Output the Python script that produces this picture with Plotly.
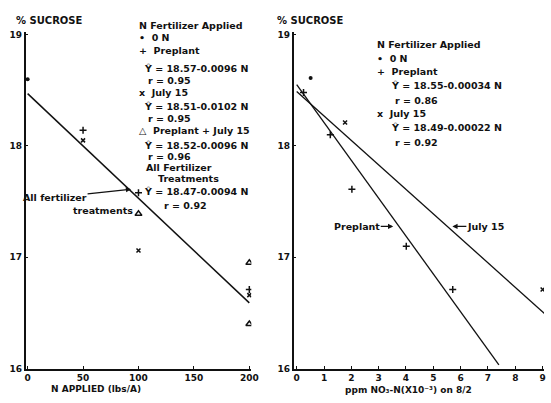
import plotly.graph_objects as go

# ---------------- data ----------------
# Left panel: N applied (lbs/A) vs % sucrose
zero_n_x = [0]
zero_n_y = [18.60]
preplant_x = [50, 100, 200]
preplant_y = [18.14, 17.58, 16.71]
july_x = [50, 100, 200]
july_y = [18.05, 17.06, 16.66]
both_x = [100, 200, 200]
both_y = [17.39, 16.95, 16.40]
all_intercept, all_slope = 18.47, -0.0094
all_line_x = [0, 200]

# Right panel: ppm NO3-N (x10^-3) on 8/2 vs % sucrose
r_zero_x = [0.51]
r_zero_y = [18.61]
r_pre_x = [0.25, 1.23, 2.02, 4.01, 5.71]
r_pre_y = [18.48, 18.10, 17.61, 17.10, 16.71]
r_july_x = [1.77, 9.0]
r_july_y = [18.21, 16.71]
pre_intercept, pre_slope = 18.55, -0.34     # per 1000 ppm
july_intercept, july_slope = 18.49, -0.22   # per 1000 ppm
pre_line_x = [0, 7.4]
july_line_x = [0, 9.2]

left_xticks = [0, 50, 100, 150, 200]
right_xticks = list(range(0, 10))
y_ticks = [16, 17, 18, 19]

W, H = 551, 403
FONT = "DejaVu Sans"
BLACK = "#111111"


def px(x):
    return x / W


def py(y):
    return 1 - y / H


fig = go.Figure()

fig.add_trace(go.Scatter(x=zero_n_x, y=zero_n_y, mode="markers",
                         marker=dict(symbol="circle", size=4, color=BLACK), xaxis="x", yaxis="y"))
fig.add_trace(go.Scatter(x=preplant_x, y=preplant_y, mode="markers",
                         marker=dict(symbol="cross-thin", size=5, line=dict(width=1.5, color=BLACK)), xaxis="x", yaxis="y"))
fig.add_trace(go.Scatter(x=july_x, y=july_y, mode="markers",
                         marker=dict(symbol="x-thin", size=4, line=dict(width=1.5, color=BLACK)), xaxis="x", yaxis="y"))
fig.add_trace(go.Scatter(x=both_x, y=both_y, mode="markers",
                         marker=dict(symbol="triangle-up-open", size=6, color=BLACK, line=dict(width=1.5)), xaxis="x", yaxis="y"))
fig.add_trace(go.Scatter(x=all_line_x, y=[all_intercept + all_slope * v for v in all_line_x],
                         mode="lines", line=dict(color=BLACK, width=1.5), xaxis="x", yaxis="y"))

fig.add_trace(go.Scatter(x=r_zero_x, y=r_zero_y, mode="markers",
                         marker=dict(symbol="circle", size=4, color=BLACK), xaxis="x2", yaxis="y2"))
fig.add_trace(go.Scatter(x=r_pre_x, y=r_pre_y, mode="markers",
                         marker=dict(symbol="cross-thin", size=5, line=dict(width=1.5, color=BLACK)), xaxis="x2", yaxis="y2"))
fig.add_trace(go.Scatter(x=r_july_x, y=r_july_y, mode="markers",
                         marker=dict(symbol="x-thin", size=4, line=dict(width=1.5, color=BLACK)), xaxis="x2", yaxis="y2"))
fig.add_trace(go.Scatter(x=pre_line_x, y=[pre_intercept + pre_slope * v for v in pre_line_x],
                         mode="lines", line=dict(color=BLACK, width=1.3), xaxis="x2", yaxis="y2"))
fig.add_trace(go.Scatter(x=july_line_x, y=[july_intercept + july_slope * v for v in july_line_x],
                         mode="lines", line=dict(color=BLACK, width=1.3), xaxis="x2", yaxis="y2"))

axis_common = dict(showgrid=False, zeroline=False, showline=True, linecolor=BLACK, linewidth=1.5,
                   ticks="inside", ticklen=3, tickcolor=BLACK,
                   tickfont=dict(family=FONT, size=9, color=BLACK, weight="bold"))

ydom = [1 - 373 / H, 1 - 30 / H]
fig.update_layout(
    width=W, height=H, autosize=False,
    margin=dict(l=0, r=0, t=0, b=0),
    paper_bgcolor="white", plot_bgcolor="white",
    showlegend=False,
    xaxis=dict(domain=[px(25), px(254)], range=[-1.8, 201.8], tickvals=left_xticks, anchor="y", **axis_common),
    yaxis=dict(domain=ydom, range=[16, 19.02], tickvals=y_ticks, anchor="x", **axis_common),
    xaxis2=dict(domain=[px(297), 1.0], range=[-0.11, 9.05], tickvals=right_xticks, anchor="y2", **axis_common),
    yaxis2=dict(domain=ydom, range=[16, 19.02], tickvals=y_ticks, anchor="x2", **axis_common),
)


def txt(x, y, s, size=9.5, anchor="left"):
    fig.add_annotation(x=px(x), y=py(y), xref="paper", yref="paper", text=s, showarrow=False,
                       xanchor=anchor, yanchor="middle", borderpad=0,
                       font=dict(family=FONT, size=size, color=BLACK, weight="bold"))


def arrow_label(tip_x, tip_y, text_cx, text_cy, s, size=9.5):
    fig.add_annotation(x=px(tip_x), y=py(tip_y), xref="paper", yref="paper", text=s,
                       ax=text_cx - tip_x, ay=text_cy - tip_y, axref="pixel", ayref="pixel",
                       showarrow=True, arrowhead=2, arrowsize=0.8, arrowwidth=1.3, arrowcolor=BLACK,
                       borderpad=0, font=dict(family=FONT, size=size, color=BLACK, weight="bold"))


# titles
txt(14, 18, "% SUCROSE", 10)
txt(279, 18, "% SUCROSE", 10)
txt(96, 394, "N APPLIED (lbs/A)", 9, "center")
txt(414, 395, "ppm NO₃-N(X10⁻³) on 8/2", 9, "center")

# left legend block
txt(139, 23, "N Fertilizer Applied")
txt(139, 35, "•  0 N")
txt(139, 48, "+  Preplant")
txt(144, 67, "Ŷ = 18.57-0.0096 N")
txt(148, 79, "r = 0.95")
txt(139, 91, "x  July 15")
txt(144, 106, "Ŷ = 18.51-0.0102 N")
txt(148, 118, "r = 0.95")
txt(139, 130, "△  Preplant + July 15")
txt(144, 145, "Ŷ = 18.52-0.0096 N")
txt(148, 157, "r = 0.96")
txt(146, 168, "All Fertilizer")
txt(158, 179, "Treatments")
txt(144, 192, "Ŷ = 18.47-0.0094 N")
txt(164, 207, "r = 0.92")

arrow_label(132, 190, 56, 198, "All fertilizer")
txt(72, 212, "treatments")

# right legend block
txt(381, 42, "N Fertilizer Applied")
txt(381, 57, "•  0 N")
txt(381, 70, "+  Preplant")
txt(395, 84, "Ŷ = 18.55-0.00034 N")
txt(399, 99, "r = 0.86")
txt(381, 113, "x  July 15")
txt(395, 127, "Ŷ = 18.49-0.00022 N")
txt(399, 142, "r = 0.92")

arrow_label(398, 228, 362, 228, "Preplant")
arrow_label(458, 228, 491, 228, "July 15")

# drop the browser's default 8px page margin so the figure fills the window
fig.write_html("out.html", config={"displayModeBar": False},
               post_script="document.body.style.margin='0';")
